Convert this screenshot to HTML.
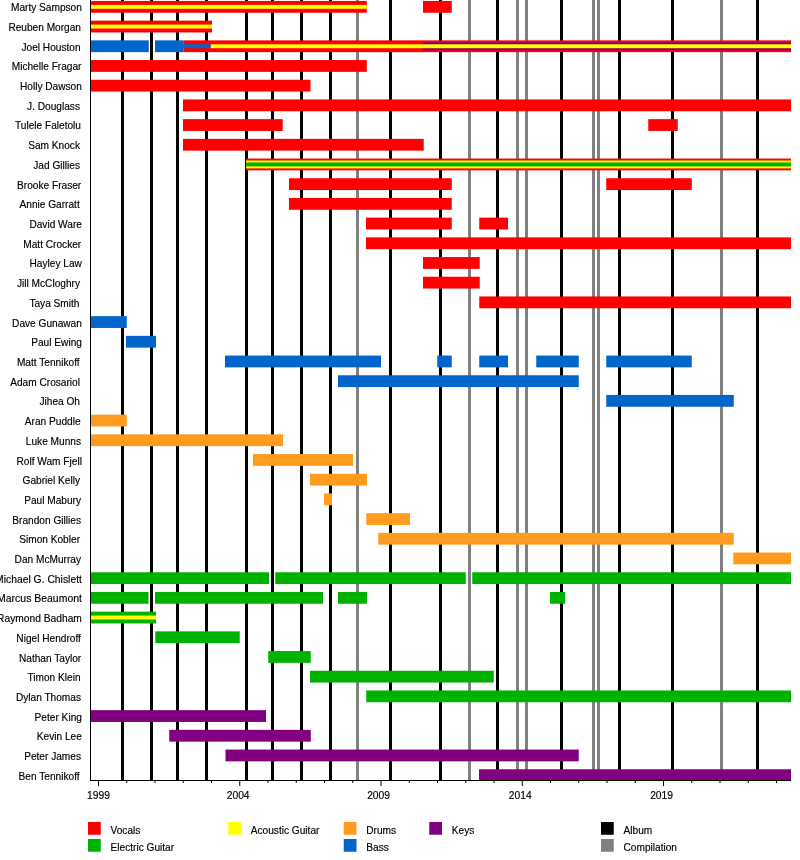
<!DOCTYPE html><html><head><meta charset="utf-8"><style>html,body{margin:0;padding:0;background:#fff;}svg{display:block;will-change:transform;}text{font-family:"Liberation Sans",Arial,sans-serif;fill:#000;stroke:#000;stroke-width:0.15px;}</style></head><body>
<svg width="800" height="860" viewBox="0 0 800 860">
<rect x="0" y="0" width="800" height="860" fill="#fff"/>
<rect x="121" y="0" width="3" height="780" fill="#000000"/>
<rect x="150" y="0" width="3" height="780" fill="#000000"/>
<rect x="176" y="0" width="3" height="780" fill="#000000"/>
<rect x="205" y="0" width="3" height="780" fill="#000000"/>
<rect x="245" y="0" width="3" height="780" fill="#000000"/>
<rect x="271" y="0" width="3" height="780" fill="#000000"/>
<rect x="300" y="0" width="3" height="780" fill="#000000"/>
<rect x="329" y="0" width="3" height="780" fill="#000000"/>
<rect x="389" y="0" width="3" height="780" fill="#000000"/>
<rect x="439" y="0" width="3" height="780" fill="#000000"/>
<rect x="496" y="0" width="3" height="780" fill="#000000"/>
<rect x="560" y="0" width="3" height="780" fill="#000000"/>
<rect x="618" y="0" width="3" height="780" fill="#000000"/>
<rect x="671" y="0" width="3" height="780" fill="#000000"/>
<rect x="756" y="0" width="3" height="780" fill="#000000"/>
<rect x="356" y="0" width="3" height="780" fill="#808080"/>
<rect x="468" y="0" width="3" height="780" fill="#808080"/>
<rect x="516" y="0" width="3" height="780" fill="#808080"/>
<rect x="525" y="0" width="3" height="780" fill="#808080"/>
<rect x="592" y="0" width="3" height="780" fill="#808080"/>
<rect x="597" y="0" width="3" height="780" fill="#808080"/>
<rect x="720" y="0" width="3" height="780" fill="#808080"/>
<rect x="91" y="0.95" width="275.75" height="11.80" fill="#ff0000"/>
<rect x="91" y="4.88" width="275.75" height="3.93" fill="#ffff00"/>
<rect x="423" y="0.95" width="28.75" height="11.80" fill="#ff0000"/>
<rect x="91" y="20.65" width="121.00" height="11.80" fill="#ff0000"/>
<rect x="91" y="24.58" width="121.00" height="3.93" fill="#ffff00"/>
<rect x="91" y="40.35" width="57.75" height="11.80" fill="#0066cc"/>
<rect x="155" y="40.35" width="28.25" height="11.80" fill="#0066cc"/>
<rect x="183.25" y="40.35" width="607.75" height="11.80" fill="#ff0000"/>
<rect x="423" y="42.32" width="368.00" height="7.87" fill="#800080"/>
<rect x="183.25" y="44.28" width="27.50" height="3.93" fill="#0066cc"/>
<rect x="210.75" y="44.28" width="580.25" height="3.93" fill="#ffff00"/>
<rect x="91" y="60.05" width="275.75" height="11.80" fill="#ff0000"/>
<rect x="91" y="79.75" width="219.50" height="11.80" fill="#ff0000"/>
<rect x="183" y="99.45" width="608.00" height="11.80" fill="#ff0000"/>
<rect x="183" y="119.15" width="99.75" height="11.80" fill="#ff0000"/>
<rect x="648.25" y="119.15" width="29.50" height="11.80" fill="#ff0000"/>
<rect x="183" y="138.85" width="240.75" height="11.80" fill="#ff0000"/>
<rect x="246" y="158.55" width="545.00" height="11.80" fill="#ff0000"/>
<rect x="246" y="160.52" width="545.00" height="7.87" fill="#ffff00"/>
<rect x="246" y="162.48" width="545.00" height="3.93" fill="#00b200"/>
<rect x="289" y="178.25" width="162.75" height="11.80" fill="#ff0000"/>
<rect x="606.25" y="178.25" width="85.50" height="11.80" fill="#ff0000"/>
<rect x="289" y="197.95" width="162.75" height="11.80" fill="#ff0000"/>
<rect x="366" y="217.65" width="85.75" height="11.80" fill="#ff0000"/>
<rect x="479.25" y="217.65" width="28.75" height="11.80" fill="#ff0000"/>
<rect x="366" y="237.35" width="425.00" height="11.80" fill="#ff0000"/>
<rect x="423" y="257.05" width="56.75" height="11.80" fill="#ff0000"/>
<rect x="423" y="276.75" width="56.75" height="11.80" fill="#ff0000"/>
<rect x="479.25" y="296.45" width="311.75" height="11.80" fill="#ff0000"/>
<rect x="91" y="316.15" width="35.75" height="11.80" fill="#0066cc"/>
<rect x="126" y="335.85" width="30.00" height="11.80" fill="#0066cc"/>
<rect x="225" y="355.55" width="156.00" height="11.80" fill="#0066cc"/>
<rect x="437.25" y="355.55" width="14.50" height="11.80" fill="#0066cc"/>
<rect x="479.25" y="355.55" width="28.75" height="11.80" fill="#0066cc"/>
<rect x="536.25" y="355.55" width="42.50" height="11.80" fill="#0066cc"/>
<rect x="606.25" y="355.55" width="85.50" height="11.80" fill="#0066cc"/>
<rect x="338" y="375.25" width="240.75" height="11.80" fill="#0066cc"/>
<rect x="606.25" y="394.95" width="127.50" height="11.80" fill="#0066cc"/>
<rect x="91" y="414.65" width="35.75" height="11.80" fill="#ff9c20"/>
<rect x="91" y="434.35" width="192.00" height="11.80" fill="#ff9c20"/>
<rect x="253" y="454.05" width="100.00" height="11.80" fill="#ff9c20"/>
<rect x="310" y="473.75" width="57.00" height="11.80" fill="#ff9c20"/>
<rect x="324" y="493.45" width="8.00" height="11.80" fill="#ff9c20"/>
<rect x="366.25" y="513.15" width="43.75" height="11.80" fill="#ff9c20"/>
<rect x="378.25" y="532.85" width="355.50" height="11.80" fill="#ff9c20"/>
<rect x="733.25" y="552.55" width="57.75" height="11.80" fill="#ff9c20"/>
<rect x="91" y="572.25" width="178.00" height="11.80" fill="#00b200"/>
<rect x="275.25" y="572.25" width="190.50" height="11.80" fill="#00b200"/>
<rect x="472.25" y="572.25" width="318.75" height="11.80" fill="#00b200"/>
<rect x="91" y="591.95" width="57.50" height="11.80" fill="#00b200"/>
<rect x="155" y="591.95" width="168.00" height="11.80" fill="#00b200"/>
<rect x="338" y="591.95" width="29.00" height="11.80" fill="#00b200"/>
<rect x="550" y="591.95" width="15.00" height="11.80" fill="#00b200"/>
<rect x="91" y="611.65" width="65.00" height="11.80" fill="#00b200"/>
<rect x="91" y="615.58" width="65.00" height="3.93" fill="#ffff00"/>
<rect x="155.25" y="631.35" width="84.50" height="11.80" fill="#00b200"/>
<rect x="268.25" y="651.05" width="42.50" height="11.80" fill="#00b200"/>
<rect x="310" y="670.75" width="183.75" height="11.80" fill="#00b200"/>
<rect x="366.25" y="690.45" width="424.75" height="11.80" fill="#00b200"/>
<rect x="91" y="710.15" width="175.00" height="11.80" fill="#800080"/>
<rect x="169.25" y="729.85" width="141.50" height="11.80" fill="#800080"/>
<rect x="225.5" y="749.55" width="353.25" height="11.80" fill="#800080"/>
<rect x="479" y="769.25" width="312.00" height="11.80" fill="#800080"/>
<rect x="90" y="0" width="1" height="781" fill="#000"/>
<rect x="90" y="780" width="701" height="1" fill="#000"/>
<rect x="98.00" y="781" width="1" height="5" fill="#000"/>
<text x="98.50" y="799" font-size="10.3" text-anchor="middle">1999</text>
<rect x="126.25" y="781" width="1" height="2" fill="#000"/>
<rect x="154.50" y="781" width="1" height="2" fill="#000"/>
<rect x="182.75" y="781" width="1" height="2" fill="#000"/>
<rect x="211.00" y="781" width="1" height="2" fill="#000"/>
<rect x="239.25" y="781" width="1" height="5" fill="#000"/>
<text x="238.15" y="799" font-size="10.3" text-anchor="middle">2004</text>
<rect x="267.50" y="781" width="1" height="2" fill="#000"/>
<rect x="295.75" y="781" width="1" height="2" fill="#000"/>
<rect x="324.00" y="781" width="1" height="2" fill="#000"/>
<rect x="352.25" y="781" width="1" height="2" fill="#000"/>
<rect x="380.50" y="781" width="1" height="5" fill="#000"/>
<text x="378.60" y="799" font-size="10.3" text-anchor="middle">2009</text>
<rect x="408.75" y="781" width="1" height="2" fill="#000"/>
<rect x="437.00" y="781" width="1" height="2" fill="#000"/>
<rect x="465.25" y="781" width="1" height="2" fill="#000"/>
<rect x="493.50" y="781" width="1" height="2" fill="#000"/>
<rect x="521.75" y="781" width="1" height="5" fill="#000"/>
<text x="520.25" y="799" font-size="10.3" text-anchor="middle">2014</text>
<rect x="550.00" y="781" width="1" height="2" fill="#000"/>
<rect x="578.25" y="781" width="1" height="2" fill="#000"/>
<rect x="606.50" y="781" width="1" height="2" fill="#000"/>
<rect x="634.75" y="781" width="1" height="2" fill="#000"/>
<rect x="663.00" y="781" width="1" height="5" fill="#000"/>
<text x="661.60" y="799" font-size="10.3" text-anchor="middle">2019</text>
<rect x="691.25" y="781" width="1" height="2" fill="#000"/>
<rect x="719.50" y="781" width="1" height="2" fill="#000"/>
<rect x="747.75" y="781" width="1" height="2" fill="#000"/>
<rect x="776.00" y="781" width="1" height="2" fill="#000"/>
<text x="81.90" y="11.10" font-size="10.15" text-anchor="end">Marty Sampson</text>
<text x="81.00" y="30.81" font-size="10.15" text-anchor="end">Reuben Morgan</text>
<text x="80.60" y="50.53" font-size="10.15" text-anchor="end">Joel Houston</text>
<text x="81.50" y="70.24" font-size="10.15" text-anchor="end">Michelle Fragar</text>
<text x="81.90" y="89.95" font-size="10.15" text-anchor="end">Holly Dawson</text>
<text x="80.00" y="109.66" font-size="10.15" text-anchor="end">J. Douglass</text>
<text x="81.00" y="129.38" font-size="10.15" text-anchor="end">Tulele Faletolu</text>
<text x="80.00" y="149.09" font-size="10.15" text-anchor="end">Sam Knock</text>
<text x="80.00" y="168.80" font-size="10.15" text-anchor="end">Jad Gillies</text>
<text x="81.25" y="188.52" font-size="10.15" text-anchor="end">Brooke Fraser</text>
<text x="79.75" y="208.23" font-size="10.15" text-anchor="end">Annie Garratt</text>
<text x="81.90" y="227.94" font-size="10.15" text-anchor="end">David Ware</text>
<text x="81.25" y="247.66" font-size="10.15" text-anchor="end">Matt Crocker</text>
<text x="81.90" y="267.37" font-size="10.15" text-anchor="end">Hayley Law</text>
<text x="80.00" y="287.08" font-size="10.15" text-anchor="end">Jill McCloghry</text>
<text x="79.50" y="306.80" font-size="10.15" text-anchor="end">Taya Smith</text>
<text x="81.90" y="326.51" font-size="10.15" text-anchor="end">Dave Gunawan</text>
<text x="81.90" y="346.22" font-size="10.15" text-anchor="end">Paul Ewing</text>
<text x="79.61" y="365.93" font-size="10.15" text-anchor="end">Matt Tennikoff</text>
<text x="80.00" y="385.65" font-size="10.15" text-anchor="end">Adam Crosariol</text>
<text x="80.00" y="405.36" font-size="10.15" text-anchor="end">Jihea Oh</text>
<text x="80.60" y="425.07" font-size="10.15" text-anchor="end">Aran Puddle</text>
<text x="81.00" y="444.79" font-size="10.15" text-anchor="end">Luke Munns</text>
<text x="81.90" y="464.50" font-size="10.15" text-anchor="end">Rolf Wam Fjell</text>
<text x="80.00" y="484.21" font-size="10.15" text-anchor="end">Gabriel Kelly</text>
<text x="81.00" y="503.93" font-size="10.15" text-anchor="end">Paul Mabury</text>
<text x="81.00" y="523.64" font-size="10.15" text-anchor="end">Brandon Gillies</text>
<text x="80.00" y="543.35" font-size="10.15" text-anchor="end">Simon Kobler</text>
<text x="81.00" y="563.06" font-size="10.15" text-anchor="end">Dan McMurray</text>
<text x="81.90" y="582.78" font-size="10.15" text-anchor="end" textLength="86.86" lengthAdjust="spacingAndGlyphs">Michael G. Chislett</text>
<text x="81.90" y="602.49" font-size="10.15" text-anchor="end" textLength="84.82" lengthAdjust="spacingAndGlyphs">Marcus Beaumont</text>
<text x="81.90" y="622.20" font-size="10.15" text-anchor="end" textLength="84.88" lengthAdjust="spacingAndGlyphs">Raymond Badham</text>
<text x="80.92" y="641.92" font-size="10.15" text-anchor="end">Nigel Hendroff</text>
<text x="81.25" y="661.63" font-size="10.15" text-anchor="end">Nathan Taylor</text>
<text x="80.60" y="681.34" font-size="10.15" text-anchor="end">Timon Klein</text>
<text x="81.00" y="701.06" font-size="10.15" text-anchor="end">Dylan Thomas</text>
<text x="81.90" y="720.77" font-size="10.15" text-anchor="end">Peter King</text>
<text x="81.90" y="740.48" font-size="10.15" text-anchor="end">Kevin Lee</text>
<text x="81.00" y="760.19" font-size="10.15" text-anchor="end">Peter James</text>
<text x="79.61" y="779.91" font-size="10.15" text-anchor="end">Ben Tennikoff</text>
<rect x="88" y="822" width="12.75" height="12.75" fill="#ff0000"/>
<text x="110.5" y="834" font-size="10.15">Vocals</text>
<rect x="88" y="839" width="12.75" height="12.75" fill="#00b200"/>
<text x="110.5" y="851" font-size="10.15">Electric Guitar</text>
<rect x="228.25" y="822" width="12.75" height="12.75" fill="#ffff00"/>
<text x="250.75" y="834" font-size="10.15">Acoustic Guitar</text>
<rect x="343.75" y="822" width="12.75" height="12.75" fill="#ff9c20"/>
<text x="366.25" y="834" font-size="10.15">Drums</text>
<rect x="343.75" y="839" width="12.75" height="12.75" fill="#0066cc"/>
<text x="366.25" y="851" font-size="10.15">Bass</text>
<rect x="429.25" y="822" width="12.75" height="12.75" fill="#800080"/>
<text x="451.75" y="834" font-size="10.15">Keys</text>
<rect x="601" y="822" width="12.75" height="12.75" fill="#000000"/>
<text x="623.5" y="834" font-size="10.15">Album</text>
<rect x="601" y="839" width="12.75" height="12.75" fill="#808080"/>
<text x="623.5" y="851" font-size="10.15">Compilation</text>
</svg></body></html>
